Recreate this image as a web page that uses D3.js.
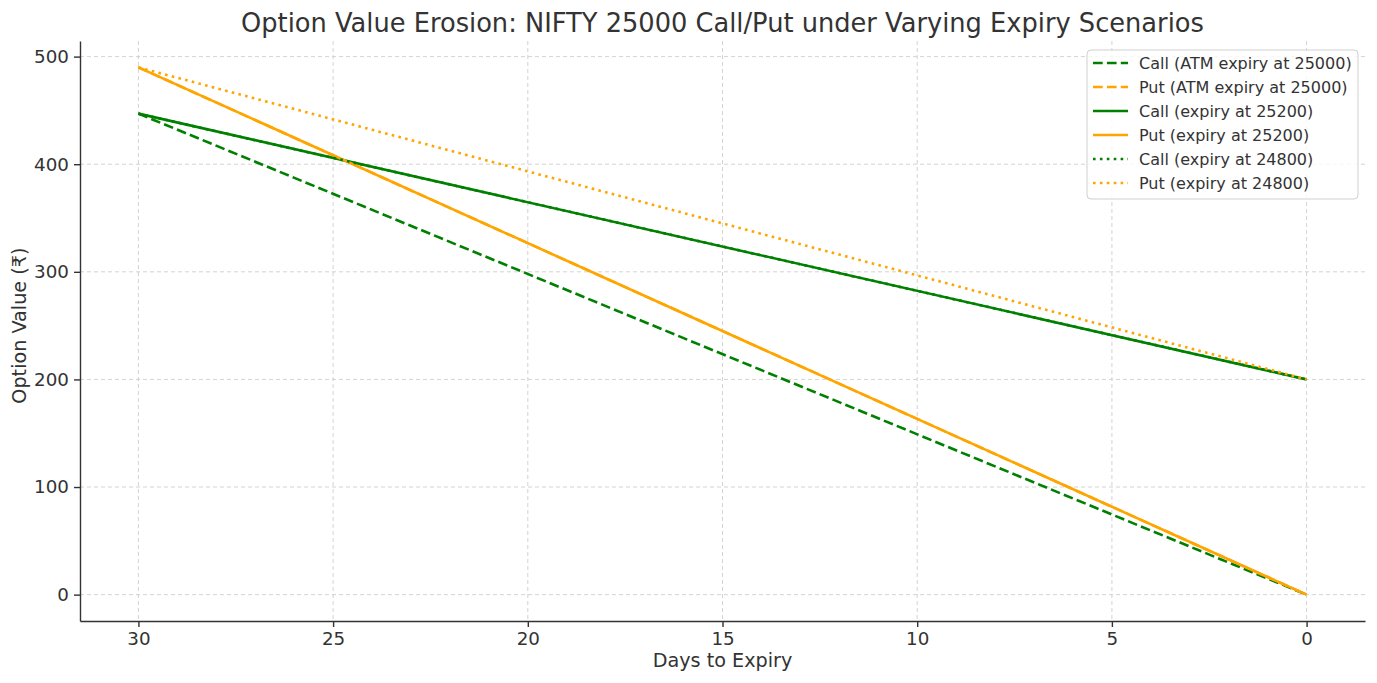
<!DOCTYPE html>
<html lang="en">
<head>
  <meta charset="UTF-8">
  <title>Option Value Erosion</title>
  <style>
    body { margin: 0; background: #fff; }
    text { font-family: "DejaVu Sans", sans-serif; fill: #333; }
    .grid line { stroke: #c8c8c8; stroke-dasharray: 4, 3; stroke-width: 0.8; }
    .axis path, .axis line { stroke: #333; }
  </style>
</head>
<body>
  <script src="https://d3js.org/d3.v7.min.js"></script>
  <div id="chart"></div>
  <script>
    // data: days to expiry and option values (₹)
    var days = [30, 0];
    var callAtm = [447, 0];
    var putAtm = [490, 0];
    var call25200 = [447, 200];
    var put25200 = [490, 0];
    var call24800 = [447, 200];
    var put24800 = [490, 200];
    var xTicks = [30, 25, 20, 15, 10, 5, 0];
    var yTicks = [0, 100, 200, 300, 400, 500];

    var series = [
      { name: "Call (ATM expiry at 25000)", values: callAtm, color: "green", dash: "9.7,4.2" },
      { name: "Put (ATM expiry at 25000)", values: putAtm, color: "orange", dash: "9.7,4.2" },
      { name: "Call (expiry at 25200)", values: call25200, color: "green", dash: null },
      { name: "Put (expiry at 25200)", values: put25200, color: "orange", dash: null },
      { name: "Call (expiry at 24800)", values: call24800, color: "green", dash: "2.6,4.3" },
      { name: "Put (expiry at 24800)", values: put24800, color: "orange", dash: "2.6,4.3" }
    ];

    var W = 1377, H = 683;
    var margin = { top: 41, right: 12, bottom: 62, left: 80 };
    var width = W - margin.left - margin.right,
      height = H - margin.top - margin.bottom;

    var svg = d3.select("#chart").append("svg")
      .attr("width", W).attr("height", H);
    var g = svg.append("g")
      .attr("transform", "translate(" + margin.left + "," + margin.top + ")");

    // matplotlib-like 5% margins, reversed x
    var x = d3.scaleLinear().domain([31.5, -1.5]).range([0, width]);
    var y = d3.scaleLinear().domain([-24.5, 514.5]).range([height, 0]);

    // grid
    g.append("g").attr("class", "grid")
      .selectAll("line").data(xTicks).enter().append("line")
      .attr("x1", d => x(d)).attr("x2", d => x(d))
      .attr("y1", 0).attr("y2", height);
    g.append("g").attr("class", "grid")
      .selectAll("line").data(yTicks).enter().append("line")
      .attr("y1", d => y(d)).attr("y2", d => y(d))
      .attr("x1", 0).attr("x2", width);

    // lines
    var line = d3.line()
      .x((d, i) => x(days[i]))
      .y(d => y(d));
    series.forEach(function (s) {
      g.append("path")
        .datum(s.values)
        .attr("d", line)
        .attr("fill", "none")
        .attr("stroke", s.color)
        .attr("stroke-width", 2.6)
        .attr("stroke-dasharray", s.dash);
    });

    // axes
    var xAxis = g.append("g").attr("class", "axis")
      .attr("transform", "translate(0," + height + ")")
      .call(d3.axisBottom(x).tickValues(xTicks).tickSize(6).tickPadding(5).tickSizeOuter(0));
    var yAxis = g.append("g").attr("class", "axis")
      .call(d3.axisLeft(y).tickValues(yTicks).tickSize(6).tickPadding(5).tickSizeOuter(0));
    [xAxis, yAxis].forEach(function (a) {
      a.select(".domain").attr("stroke-width", 1.4);
      a.selectAll(".tick line").attr("stroke-width", 1.4);
      a.selectAll(".tick text").style("font-size", "18.3px").attr("fill", "#333");
    });

    // titles
    svg.append("text")
      .attr("x", margin.left + width / 2).attr("y", 32)
      .attr("text-anchor", "middle")
      .style("font-size", "25.7px")
      .text("Option Value Erosion: NIFTY 25000 Call/Put under Varying Expiry Scenarios");
    svg.append("text")
      .attr("x", margin.left + width / 2).attr("y", 667)
      .attr("text-anchor", "middle")
      .style("font-size", "19.2px")
      .text("Days to Expiry");
    svg.append("text")
      .attr("transform", "translate(26," + (margin.top + y(250)) + ") rotate(-90)")
      .attr("text-anchor", "middle")
      .style("font-size", "19.2px")
      .text("Option Value (₹)");

    // legend
    var lg = svg.append("g").attr("transform", "translate(1087,50)");
    lg.append("rect")
      .attr("width", 271).attr("height", 149)
      .attr("rx", 4)
      .attr("fill", "white").attr("fill-opacity", 0.8)
      .attr("stroke", "#d0d0d0");
    series.forEach(function (s, i) {
      var row = lg.append("g").attr("transform", "translate(0," + (13 + i * 24) + ")");
      row.append("line")
        .attr("x1", 6).attr("x2", 41)
        .attr("stroke", s.color).attr("stroke-width", 2.6)
        .attr("stroke-dasharray", s.dash);
      row.append("text")
        .attr("x", 52).attr("dy", "0.35em")
        .style("font-size", "16px")
        .text(s.name);
    });
  </script>
</body>
</html>
